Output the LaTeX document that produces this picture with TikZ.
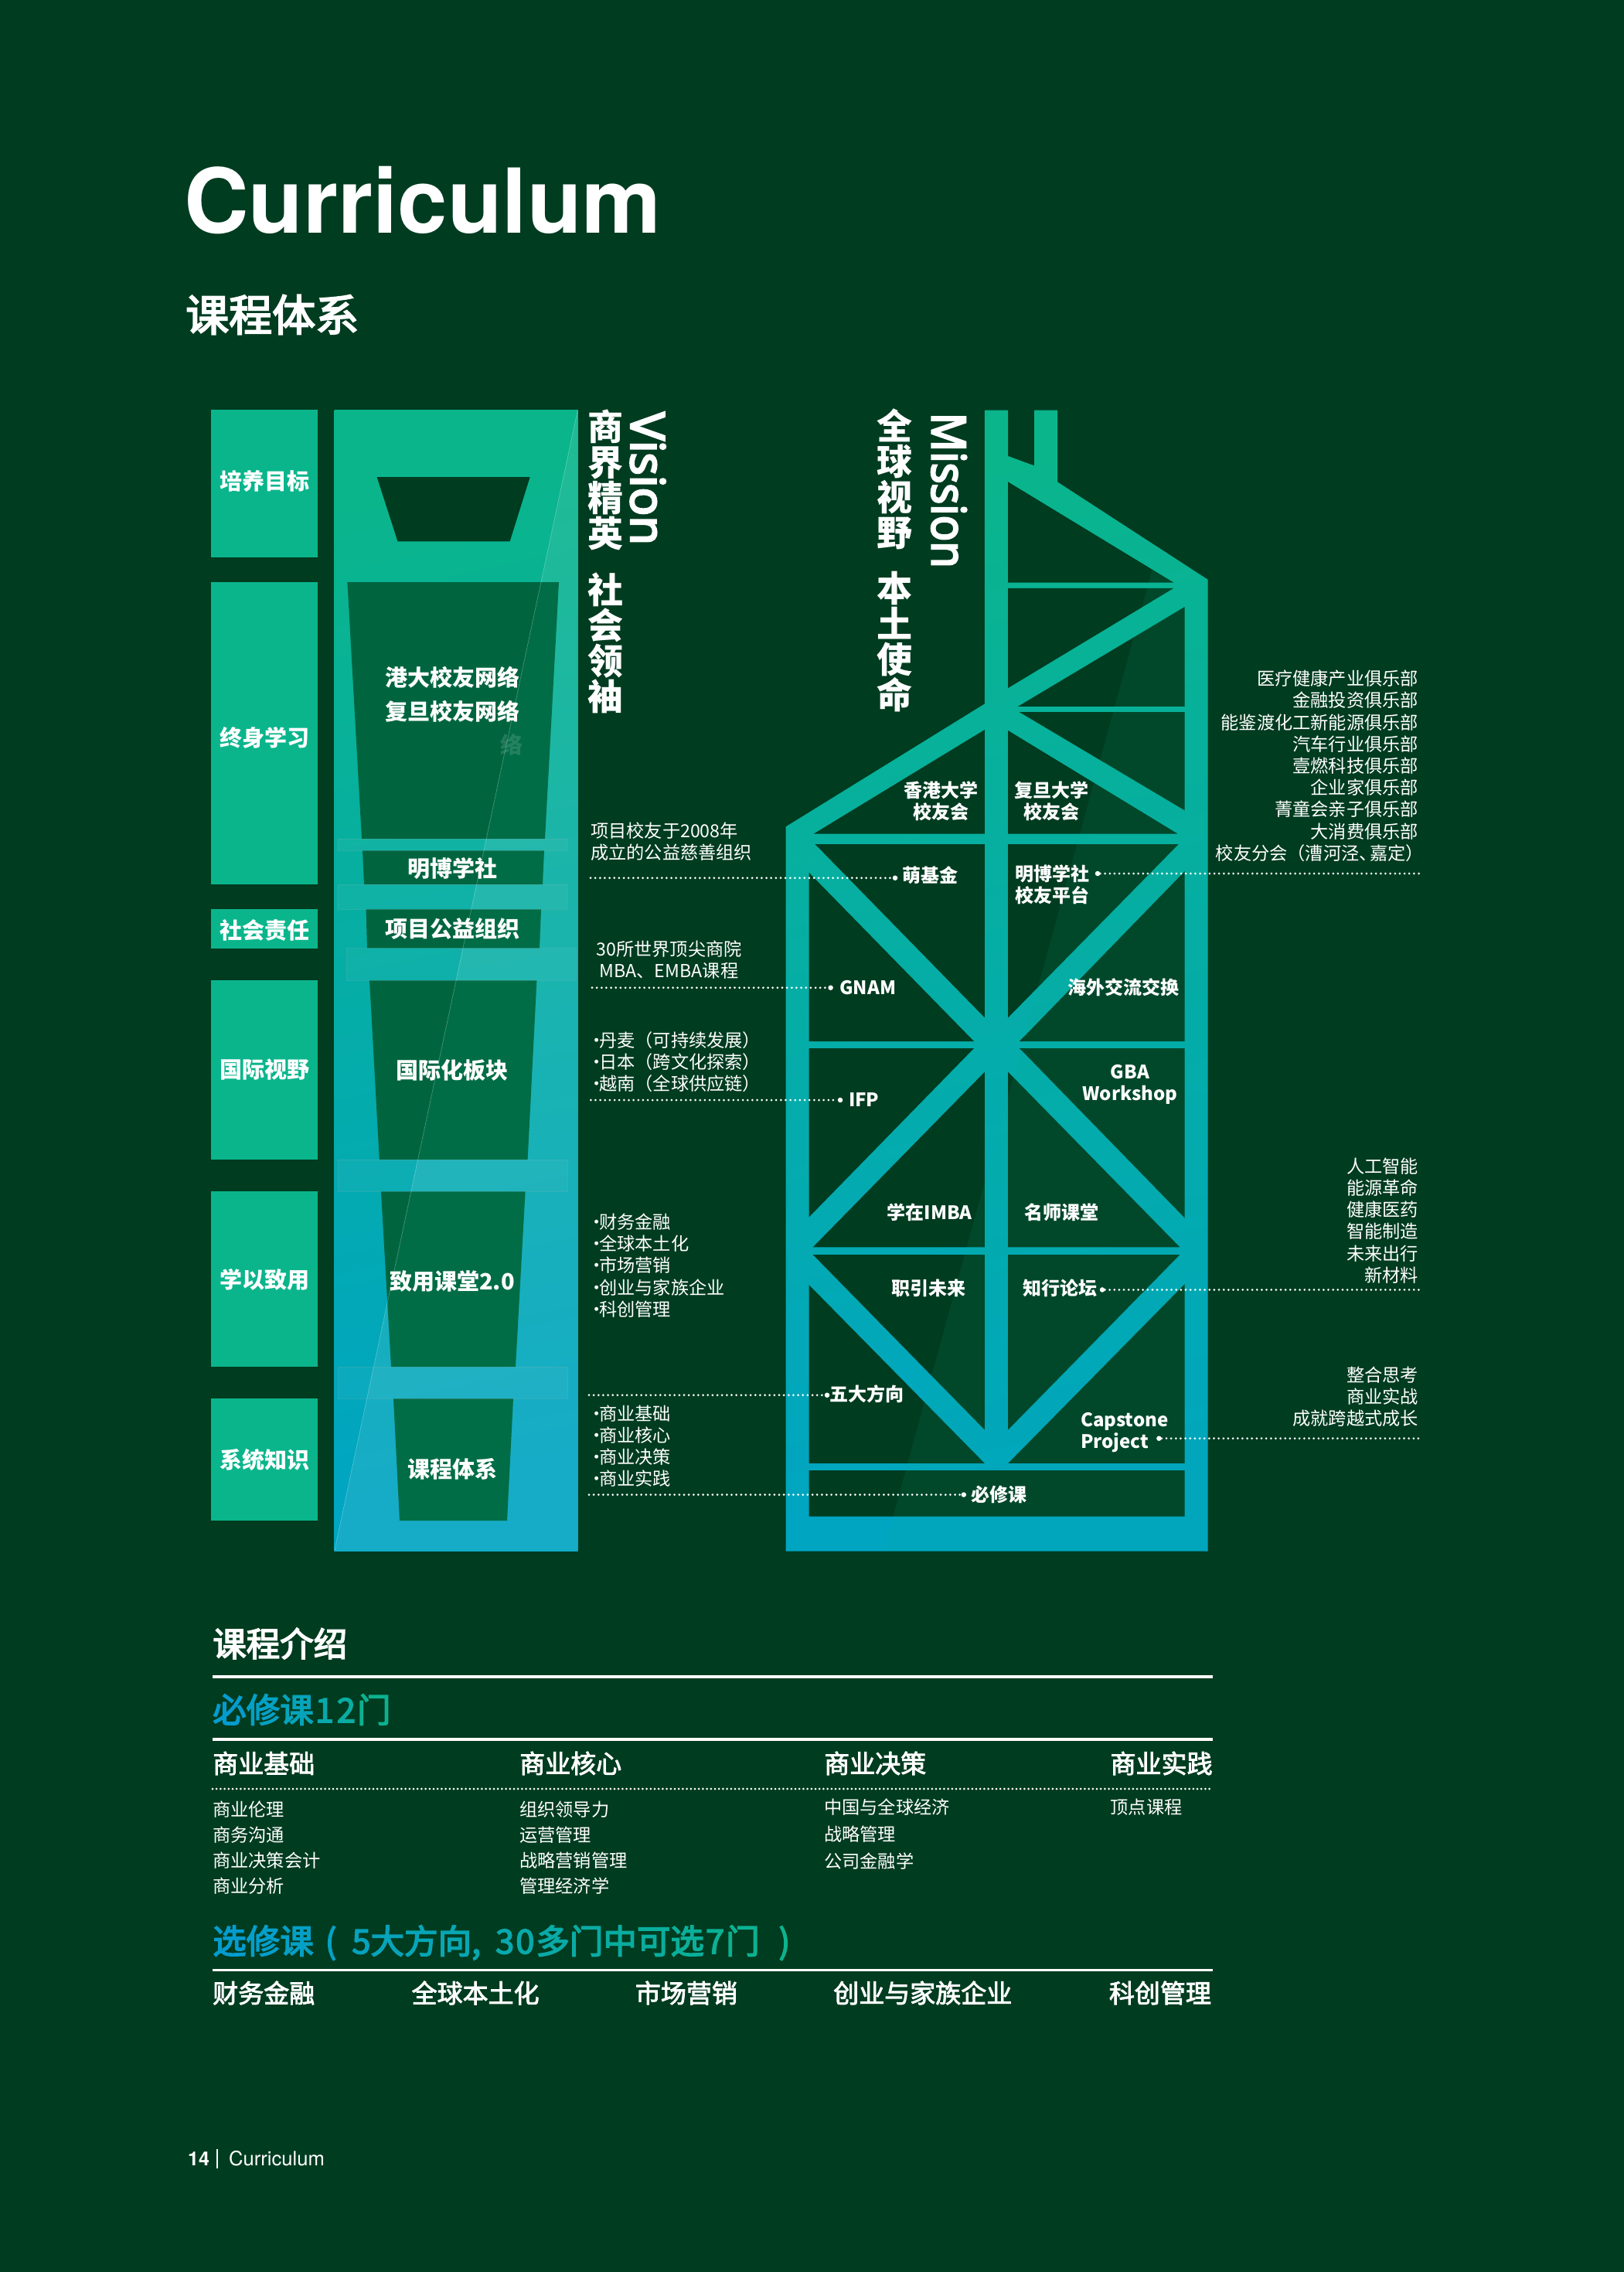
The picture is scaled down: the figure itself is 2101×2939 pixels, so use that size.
\documentclass[tikz,border=0pt]{standalone}
\usepackage{fontspec}
\usepackage{graphicx}
\setmainfont{Noto Sans CJK SC}
\newfontfamily\helv{TeX Gyre Heros}
\newfontfamily\cjkmed[FakeBold=3.5]{Noto Sans CJK SC}
\newfontfamily\cjkhead[FakeBold=2.6]{Noto Sans CJK SC}
\newfontfamily\latv[FakeBold=4]{Noto Sans}
\newcommand{\fsz}[2]{\fontsize{#1}{#2}\selectfont}
\definecolor{bgc}{HTML}{003C20}
\definecolor{gtop}{HTML}{0AB58C}
\definecolor{gmid}{HTML}{0BB198}
\definecolor{gbot}{HTML}{00A5C2}
\definecolor{funnel}{HTML}{00653F}
\definecolor{gblue}{HTML}{049CCF}
\definecolor{ggreen}{HTML}{0DB48A}
\newcommand{\gc}[2]{\textcolor{ggreen!#1!gblue}{#2}}
\newcommand{\dotb}{\makebox[7pt][c]{·}}
\tikzset{
  every node/.style={inner sep=0pt,text=white},
  sidebox/.style={fill=gtop},
  funnelseg/.style={fill=funnel},
  bandbar/.style={fill=white,fill opacity=.045,draw=teal!60!white,draw opacity=.35,line width=.7pt},
  dotline/.style={white,line width=3pt,line cap=round,dash pattern=on 0pt off 6.15pt},
  dotend/.style={circle,fill=white,minimum size=6.5pt},
  boxlab/.style={font=\bfseries\fsz{29}{44}},
  towerlab/.style={font=\bfseries\fsz{24}{28.2},align=center},
  anno/.style={font=\fsz{23.2}{28.2},align=left},
  annor/.style={font=\fsz{23.2}{28.2},align=right,anchor=east},
  stacktxt/.style={font=\bfseries\fsz{46}{46},align=center},
  latvert/.style={font=\latv\fsz{61}{61},rotate=-90,anchor=base west},
  head/.style={font=\cjkhead\fsz{33}{36},anchor=west},
  item/.style={font=\fsz{23.2}{33},anchor=north west,align=left},
  rule/.style={white,line width=3.5pt},
  grad/.style={font=\cjkmed\fsz{43.5}{50},anchor=west},
}
\begin{document}
\begin{tikzpicture}[x=1pt,y=-1pt]
\useasboundingbox (0,0) rectangle (2101,2939);
\fill[bgc] (0,0) rectangle (2101,2939);

% title
\node[font=\helv\bfseries\fsz{115.8}{116},anchor=base west] (title) at (238,301) {Curriculum};
\node[font=\cjkmed\fsz{56}{60},anchor=west] (sub) at (240,407) {课程体系};

% left boxes
\node[sidebox,minimum width=138pt,minimum height=191pt] (b1) at (342,625.5) {};
\node[sidebox,minimum width=138pt,minimum height=391pt] (b2) at (342,948.5) {};
\node[sidebox,minimum width=138pt,minimum height=51pt] (b3) at (342,1201) {};
\node[sidebox,minimum width=138pt,minimum height=232pt] (b4) at (342,1384) {};
\node[sidebox,minimum width=138pt,minimum height=227pt] (b5) at (342,1654.5) {};
\node[sidebox,minimum width=138pt,minimum height=158pt] (b6) at (342,1888) {};
\node[boxlab] (b1t) at (342,622) {培养目标};
\node[boxlab] (b2t) at (342,954) {终身学习};
\node[boxlab] (b3t) at (342,1203) {社会责任};
\node[boxlab] (b4t) at (342,1384) {国际视野};
\node[boxlab] (b5t) at (342,1655) {学以致用};
\node[boxlab] (b6t) at (342,1888) {系统知识};

% centre panel
\shade[top color=gtop,middle color=gmid,bottom color=gbot,shading angle=12] (432.6,530) rectangle (747.5,2006.5);
\fill[bgc] (487.6,617) -- (685.7,617) -- (659.6,700.4) -- (514.5,700.4) -- cycle;
% lighter diagonal part of the panel
\fill[white,opacity=.085] (747.5,530) -- (747.5,2006.5) -- (432.6,2006.5) -- cycle;
\def\funnelpath{(449.4,753) -- (723,753) -- (705,1085) -- (468,1085) -- cycle
 (469,1100) -- (704,1100) -- (702,1144) -- (471,1144) -- cycle
 (473.5,1176) -- (700,1176) -- (698,1226.6) -- (475,1226.6) -- cycle
 (478,1268) -- (694.4,1268) -- (682.6,1500) -- (490.8,1500) -- cycle
 (492.9,1541) -- (679.6,1541) -- (667,1768) -- (506,1768) -- cycle
 (509,1809) -- (664,1809) -- (656,1967) -- (517,1967) -- cycle}
\fill[funnelseg] \funnelpath;
\begin{scope}
\clip \funnelpath;
\fill[gtop,opacity=.1] (747.5,530) -- (747.5,2006.5) -- (432.6,2006.5) -- cycle;
\end{scope}
\draw[white,opacity=.3,line width=.6pt] (747.5,530) -- (432.6,2006.5);
% bands
\path[bandbar] (437.4,1085) rectangle (734,1100);
\path[bandbar] (437.4,1144) rectangle (734,1176);
\path[bandbar] (448.5,1226.6) rectangle (745.4,1268);
\path[bandbar] (437,1500) rectangle (734.7,1541);
\path[bandbar] (437,1768) rectangle (734.7,1809);

\node[boxlab] (p1) at (585,876) {港大校友网络};
\node[boxlab] (p2) at (585,920) {复旦校友网络};
\node[font=\bfseries\fsz{29}{44},text opacity=.14] (ghost) at (662,963) {络};
\node[boxlab] (p3) at (585,1123) {明博学社};
\node[boxlab] (p4) at (585,1201) {项目公益组织};
\node[boxlab] (p5) at (585,1384) {国际化板块};
\node[boxlab] (p6) at (585,1658) {致用课堂2.0};
\node[boxlab] (p7) at (585,1900) {课程体系};

% vision text
\node[latvert] (vision) at (816,533) {Vision};
\node[stacktxt] (v1) at (783,620.5) {商\\界\\精\\英};
\node[stacktxt] (v2) at (783,832) {社\\会\\领\\袖};
\node[latvert] (mission) at (1205.5,533.5) {\scalebox{.915}[1]{Mission}};
\node[stacktxt] (m1) at (1157,619.5) {全\\球\\视\\野};
\node[stacktxt] (m2) at (1157,830.5) {本\\土\\使\\命};

% tower
\def\towerpath{(1273.8,530.6) -- (1304.2,530.6) -- (1304.2,590) -- (1338,602.4) -- (1338,530.6) -- (1368,530.6) -- (1368,623.4) -- (1562.6,749.8) -- (1562.6,2006.6) -- (1016.6,2006.6) -- (1016.6,1069.4) -- (1273.8,910.5) -- cycle}
\shade[top color=gtop,middle color=gmid,bottom color=gbot,shading angle=12] \towerpath;
\fill[bgc]
 (1304.2,623.4) -- (1518.4,753.6) -- (1304.2,753.6) -- cycle
 (1304.2,760.8) -- (1518.4,760.8) -- (1304.2,890) -- cycle
 (1532.7,785) -- (1532.7,913.9) -- (1316.9,913.9) -- cycle
 (1318.6,921) -- (1532.7,921) -- (1532.7,1048.3) -- cycle
 (1304.2,945) -- (1523.5,1078.5) -- (1304.2,1078.5) -- cycle
 (1273.8,944) -- (1273.8,1078.5) -- (1052.8,1078.5) -- cycle
 (1054.5,1092) -- (1273.8,1092) -- (1273.8,1316.3) -- cycle
 (1046.5,1128.7) -- (1046.5,1347) -- (1260,1347) -- cycle
 (1304.2,1092) -- (1524.7,1092) -- (1304.2,1316.3) -- cycle
 (1532.7,1127) -- (1532.7,1347) -- (1319,1347) -- cycle
 (1046.5,1356) -- (1260,1356) -- (1046.5,1574.5) -- cycle
 (1273.8,1386.7) -- (1273.8,1613.3) -- (1051.7,1613.3) -- cycle
 (1304.2,1386.7) -- (1304.2,1613.3) -- (1526.4,1613.3) -- cycle
 (1319,1356) -- (1532.7,1356) -- (1532.7,1575.5) -- cycle
 (1051.7,1623) -- (1273.8,1623) -- (1273.8,1849.5) -- cycle
 (1304.2,1623) -- (1526.4,1623) -- (1304.2,1849.5) -- cycle
 (1046.5,1662) -- (1046.5,1892.9) -- (1273.8,1892.9) -- cycle
 (1532.7,1661) -- (1532.7,1892.9) -- (1304.2,1892.9) -- cycle
 (1046.5,1902) rectangle (1532.7,1961.7);
\begin{scope}
\clip \towerpath;
\fill[gtop,opacity=.1] (1550,520) -- (1563,520) -- (1563,2007) -- (1143,2007) -- cycle;
\end{scope}

% tower labels
\node[towerlab] (t1) at (1217.6,1036) {香港大学\\校友会};
\node[towerlab] (t2) at (1360.5,1036) {复旦大学\\校友会};
\node[towerlab] (t3) at (1203,1132) {萌基金};
\node[towerlab] (t4) at (1361.6,1144) {明博学社\\校友平台};
\node[towerlab] (t5) at (1122.8,1277.5) {GNAM};
\node[towerlab] (t6) at (1453.5,1277) {海外交流交换};
\node[towerlab] (t7) at (1117.7,1423) {IFP};
\node[towerlab] (t8) at (1462,1402.5) {GBA\\Workshop};
\node[towerlab] (t9) at (1202.6,1568) {学在IMBA};
\node[towerlab] (t10) at (1373,1568) {名师课堂};
\node[towerlab] (t11) at (1201.5,1666) {职引未来};
\node[towerlab] (t12) at (1371.4,1666) {知行论坛};
\node[towerlab] (t13) at (1121.7,1803) {五大方向};
\node[towerlab,align=left,anchor=west] (t14) at (1397.8,1853) {Capstone\\Project};
\node[towerlab] (t15) at (1292.8,1933.5) {必修课};

% left annotations
\node[anno,anchor=west] (a1) at (764,1088.5) {项目校友于2008年\\成立的公益慈善组织};
\node[anno,anchor=west] (a2) at (771.4,1241.5) {30所世界顶尖商院\\\hspace*{4pt}MBA、EMBA课程};
\node[anno,anchor=west] (a3) at (768,1373.4) {\dotb 丹麦（可持续发展）\\\dotb 日本（跨文化探索）\\\dotb 越南（全球供应链）};
\node[anno,anchor=west] (a4) at (768,1637) {\dotb 财务金融\\\dotb 全球本土化\\\dotb 市场营销\\\dotb 创业与家族企业\\\dotb 科创管理};
\node[anno,anchor=west] (a5) at (768,1870.7) {\dotb 商业基础\\\dotb 商业核心\\\dotb 商业决策\\\dotb 商业实践};

% right annotations
\node[annor] (r1) at (1835,990.8) {医疗健康产业俱乐部\\金融投资俱乐部\\能鉴渡化工新能源俱乐部\\汽车行业俱乐部\\壹燃科技俱乐部\\企业家俱乐部\\菁童会亲子俱乐部\\大消费俱乐部\\校友分会（漕河泾\makebox[14pt][l]{、}嘉定\makebox[16pt][l]{）}};
\node[annor] (r2) at (1835,1579) {人工智能\\能源革命\\健康医药\\智能制造\\未来出行\\新材料};
\node[annor] (r3) at (1835,1807) {整合思考\\商业实战\\成就跨越式成长};

% connectors
\coordinate (c1s) at (764,1135.7);
\coordinate (c2s) at (766,1277.7);
\coordinate (c3s) at (764.3,1423);
\coordinate (c4s) at (762,1804.7);
\coordinate (c5s) at (762,1933.5);
\coordinate (c6e) at (1837,1130);
\coordinate (c7e) at (1837,1668.4);
\coordinate (c8e) at (1837,1860.7);
\node[dotend] (d1) at (1158,1135.7) {};
\node[dotend] (d2) at (1074.6,1277.7) {};
\node[dotend] (d3) at (1087,1423) {};
\node[dotend] (d4) at (1070,1804.7) {};
\node[dotend] (d5) at (1246.8,1933.5) {};
\node[dotend] (d6) at (1420,1130) {};
\node[dotend] (d7) at (1426,1668.4) {};
\node[dotend] (d8) at (1499.4,1860.7) {};
\draw[dotline] (c1s) -- (d1);
\draw[dotline] (c2s) -- (d2);
\draw[dotline] (c3s) -- (d3);
\draw[dotline] (c4s) -- (d4);
\draw[dotline] (c5s) -- (d5);
\draw[dotline] (d6) -- (c6e);
\draw[dotline] (d7) -- (c7e);
\draw[dotline] (d8) -- (c8e);

% course introduction
\node[font=\cjkmed\fsz{43.5}{50},anchor=west] (intro) at (275,2126) {课程介绍};
\draw[rule] (275,2168.8) -- (1569,2168.8);
\node[grad] (req) at (275,2211.5) {\gc{0}{必}\gc{15}{修}\gc{30}{课}\hspace{2pt}\gc{50}{1}\hspace{4pt}\gc{65}{2}\hspace{2pt}\gc{90}{门}};
\draw[rule] (275,2249.8) -- (1569,2249.8);
\node[head] (h1) at (275,2281) {商业基础};
\node[head] (h2) at (672,2281) {商业核心};
\node[head] (h3) at (1066,2281) {商业决策};
\node[head] (h4) at (1436.4,2281) {商业实践};
\draw[white,line width=3pt,line cap=round,dash pattern=on 0pt off 5.2pt] (275,2314) -- (1569,2314);
\node[item] (i1) at (275,2329.5) {商业伦理\\商务沟通\\商业决策会计\\商业分析};
\node[item] (i2) at (672,2329.5) {组织领导力\\运营管理\\战略营销管理\\管理经济学};
\node[item,font=\fsz{23.2}{34.8}] (i3) at (1066,2327) {中国与全球经济\\战略管理\\公司金融学};
\node[item] (i4) at (1436.4,2327) {顶点课程};
\node[grad] (ele) at (275,2513) {\gc{0}{选}\gc{7}{修}\gc{14}{课}\hspace{15pt}\gc{18}{(}\hspace{20pt}\gc{25}{5}\gc{30}{大}\gc{36}{方}\gc{42}{向}\gc{46}{,}\hspace{19pt}\gc{50}{3}\hspace{2pt}\gc{53}{0}\hspace{2pt}\gc{58}{多}\gc{63}{门}\gc{68}{中}\gc{73}{可}\gc{78}{选}\hspace{2pt}\gc{84}{7}\hspace{2pt}\gc{88}{门}\hspace{25pt}\gc{96}{)}};
\draw[rule] (275,2548.7) -- (1569,2548.7);
\node[head] (e1) at (275,2578) {财务金融};
\node[head] (e2) at (532.4,2578) {全球本土化};
\node[head] (e3) at (821.7,2578) {市场营销};
\node[head] (e4) at (1078,2578) {创业与家族企业};
\node[head] (e5) at (1434.7,2578) {科创管理};

% footer
\node[font=\helv\bfseries\fsz{25}{25},anchor=base west] (pg) at (243,2801) {14};
\draw[white,line width=1.6pt] (281,2780) -- (281,2805);
\node[font=\helv\fsz{25.6}{26},anchor=base west] (ft) at (296,2801) {Curriculum};
\end{tikzpicture}
\end{document}
